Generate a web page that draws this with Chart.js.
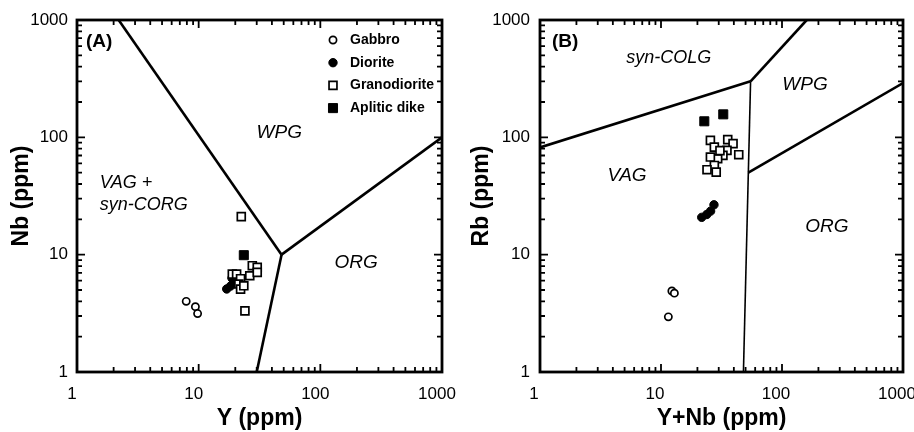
<!DOCTYPE html>
<html>
<head>
<meta charset="utf-8">
<script src="https://cdn.jsdelivr.net/npm/chart.js@4.4.1/dist/chart.umd.min.js"></script>
<style>
  body { margin: 0; background: #fff; }
  #wrap { position: relative; width: 914px; height: 432px; overflow: hidden; }
  #wrap canvas { position: absolute; left: 0; top: 0; }
</style>
</head>
<body>
<div id="wrap">
  <canvas id="chartA" width="914" height="432"></canvas>
  <canvas id="chartB" width="914" height="432"></canvas>
</div>
<script>
  // axis ticks (both panels, both axes)
  var decades = [1, 10, 100, 1000];
  var tickLabels = ['1', '10', '100', '1000'];

  // panel A: Nb vs Y
  var gabbroA_Y = [7.9, 9.4, 9.8];
  var gabbroA_Nb = [4.0, 3.6, 3.15];
  var dioriteA_Y = [17.0, 18.3, 19.5, 18.8];
  var dioriteA_Nb = [5.1, 5.4, 5.7, 6.3];
  var granoA_Y = [22.4, 24.0, 18.9, 20.5, 22.1, 21.4, 22.1, 23.5, 26.3, 27.6, 30.3, 30.3];
  var granoA_Nb = [21.1, 3.32, 6.84, 6.84, 6.24, 5.62, 5.09, 5.43, 6.61, 8.05, 7.79, 7.06];
  var apliticA_Y = [23.5];
  var apliticA_Nb = [9.9];

  // panel A field boundaries
  var bndA1_x = [2.2, 48], bndA1_y = [1000, 10];
  var bndA2_x = [48, 1000], bndA2_y = [10, 100];
  var bndA3_x = [48, 30], bndA3_y = [10, 1];

  // panel B: Rb vs Y+Nb
  var gabbroB_YNb = [12.3, 12.9, 11.5];
  var gabbroB_Rb = [4.9, 4.7, 2.95];
  var dioriteB_YNb = [21.7, 23.9, 25.7, 27.4];
  var dioriteB_Rb = [20.8, 22.0, 23.5, 26.6];
  var granoB_YNb = [25.6, 27.6, 35.6, 39.4, 43.9, 35.1, 32.5, 29.4, 25.6, 27.6, 24.0, 28.6, 30.7];
  var granoB_Rb = [94.3, 82.6, 95.5, 88.3, 71.1, 77.4, 70.2, 65.7, 67.9, 57.6, 53.0, 50.5, 77];
  var apliticB_YNb = [22.8, 32.7];
  var apliticB_Rb = [137, 157];

  // panel B field boundaries
  var bndB1_x = [1, 55], bndB1_y = [82, 300];
  var bndB2_x = [55, 160], bndB2_y = [300, 1000];
  var bndB3_x = [55, 48], bndB3_y = [300, 1];
  var bndB4_x = [52.7, 1000], bndB4_y = [50, 290];

  var FONT = "'Liberation Sans', Arial, Helvetica, sans-serif";

  function pts(xs, ys) {
    return xs.map(function (x, i) { return { x: x, y: ys[i] }; });
  }

  function rockSets(g, d, gr, ap) {
    return [
      { label: 'Gabbro', data: g, pointStyle: 'circle', pointRadius: 3.6, pointBackgroundColor: '#fff',
        pointBorderColor: '#000', pointBorderWidth: 1.7, order: 1 },
      { label: 'Diorite', data: d, pointStyle: 'circle', pointRadius: 4.2, pointBackgroundColor: '#000',
        pointBorderColor: '#000', pointBorderWidth: 1, order: 2 },
      { label: 'Granodiorite', data: gr, pointStyle: 'rect', pointRadius: 5.6, pointBackgroundColor: '#fff',
        pointBorderColor: '#000', pointBorderWidth: 1.7, order: 0 },
      { label: 'Aplitic dike', data: ap, pointStyle: 'rect', pointRadius: 6.4, pointBackgroundColor: '#000',
        pointBorderColor: '#000', pointBorderWidth: 1, order: 0 }
    ];
  }

  function boundary(data, w) {
    return { label: '', data: data, showLine: true, borderColor: '#000', borderWidth: w || 2.6,
      pointRadius: 0, tension: 0, order: 5, isBoundary: true };
  }

  // frame + inward log ticks on all four sides
  var frameTicks = {
    id: 'frameTicks',
    afterDraw: function (chart) {
      var ctx = chart.ctx, a = chart.chartArea;
      var xs = chart.scales.x, ys = chart.scales.y;
      ctx.save();
      ctx.strokeStyle = '#000';
      ctx.lineWidth = 1.8;
      for (var d = 1; d <= 1000; d *= 10) {
        for (var k = 1; k <= 9; k++) {
          var v = d * k;
          if (v > 1000) break;
          var len = k === 1 ? 8 : 5;
          var px = xs.getPixelForValue(v), py = ys.getPixelForValue(v);
          ctx.beginPath();
          ctx.moveTo(px, a.bottom); ctx.lineTo(px, a.bottom - len);
          ctx.moveTo(px, a.top); ctx.lineTo(px, a.top + len);
          ctx.moveTo(a.left, py); ctx.lineTo(a.left + len, py);
          ctx.moveTo(a.right, py); ctx.lineTo(a.right - len, py);
          ctx.stroke();
        }
      }
      ctx.lineWidth = 2.8;
      ctx.strokeRect(a.left, a.top, a.right - a.left, a.bottom - a.top);
      ctx.restore();
    }
  };

  // field names and panel letters, placed in data space
  var regionLabels = {
    id: 'regionLabels',
    afterDatasetsDraw: function (chart, args, opts) {
      var ctx = chart.ctx, xs = chart.scales.x, ys = chart.scales.y;
      ctx.save();
      ctx.fillStyle = '#000';
      ctx.textBaseline = 'middle';
      (opts.items || []).forEach(function (it) {
        ctx.font = it.font;
        ctx.textAlign = it.align || 'center';
        ctx.fillText(it.text, xs.getPixelForValue(it.x), ys.getPixelForValue(it.y));
      });
      ctx.restore();
    }
  };

  // legend drawn inside the plot, top right
  var innerLegend = {
    id: 'innerLegend',
    afterDraw: function (chart, args, opts) {
      if (!opts.show) return;
      var ctx = chart.ctx, a = chart.chartArea;
      var sx = a.right - 109, tx = a.right - 92, y0 = a.top + 20, dy = 22.7;
      ctx.save();
      ctx.font = 'bold 14px ' + FONT;
      ctx.textBaseline = 'middle';
      ctx.textAlign = 'left';
      var row = 0;
      chart.data.datasets.forEach(function (ds) {
        if (ds.isBoundary) return;
        var y = y0 + row * dy;
        ctx.fillStyle = ds.pointBackgroundColor;
        ctx.strokeStyle = '#000';
        ctx.lineWidth = ds.pointBorderWidth;
        ctx.beginPath();
        if (ds.pointStyle === 'circle') {
          ctx.arc(sx, y, ds.pointRadius, 0, Math.PI * 2);
        } else {
          var h = ds.pointRadius * Math.SQRT1_2;
          ctx.rect(sx - h, y - h, 2 * h, 2 * h);
        }
        ctx.fill();
        ctx.stroke();
        ctx.fillStyle = '#000';
        ctx.fillText(ds.label, tx, y);
        row++;
      });
      ctx.restore();
    }
  };

  function logAxis(titleText, isX, sizeOrOffset, tickPad, titlePad) {
    var ax = {
      type: 'logarithmic',
      min: 1,
      max: 1000,
      afterBuildTicks: function (s) {
        s.ticks = decades.map(function (v) { return { value: v }; });
      },
      ticks: {
        autoSkip: false,
        maxRotation: 0,
        color: '#000',
        padding: tickPad,
        font: { family: FONT, size: 17 },
        callback: function (v, i) { return tickLabels[i]; }
      },
      grid: { display: false, drawTicks: false },
      border: { display: false },
      title: {
        display: true,
        text: titleText,
        color: '#000',
        font: { family: FONT, size: 23, weight: 'bold' },
        padding: titlePad
      }
    };
    if (isX) {
      ax.position = 'bottom';
      ax.ticks.labelOffset = sizeOrOffset;
      ax.afterFit = function (s) {
        s.height = 60;
        s.paddingLeft = 0;
        s.paddingRight = 0;
      };
    } else {
      ax.position = 'left';
      ax.afterFit = function (s) {
        s.width = sizeOrOffset;
        s.paddingTop = 0;
        s.paddingBottom = 0;
      };
    }
    return ax;
  }

  function makeChart(id, datasets, xTitle, yTitle, yWidth, pad, xOffset, yTickPad, yTitlePad, labels, legend) {
    return new Chart(document.getElementById(id), {
      type: 'scatter',
      data: { datasets: datasets },
      options: {
        responsive: false,
        animation: false,
        devicePixelRatio: 1,
        layout: { padding: pad },
        scales: {
          x: logAxis(xTitle, true, xOffset, 12, { top: 0, bottom: 0 }),
          y: logAxis(yTitle, false, yWidth, yTickPad, { top: yTitlePad, bottom: 0 })
        },
        plugins: {
          legend: { display: false },
          tooltip: { enabled: false },
          regionLabels: { items: labels },
          innerLegend: { show: legend }
        }
      },
      plugins: [regionLabels, innerLegend, frameTicks]
    });
  }

  var ital19 = 'italic 19px ' + FONT;
  var ital18 = 'italic 18px ' + FONT;
  var bold19 = 'bold 19px ' + FONT;

  makeChart('chartA',
    rockSets(pts(gabbroA_Y, gabbroA_Nb), pts(dioriteA_Y, dioriteA_Nb), pts(granoA_Y, granoA_Nb), pts(apliticA_Y, apliticA_Nb))
      .concat([boundary(pts(bndA1_x, bndA1_y)), boundary(pts(bndA2_x, bndA2_y)), boundary(pts(bndA3_x, bndA3_y))]),
    'Y (ppm)', 'Nb (ppm)', 77, { top: 20, right: 472, left: 0, bottom: 0 }, -5, 9, 8,
    [
      { text: '(A)', x: 1.185, y: 650, font: bold19, align: 'left' },
      { text: 'WPG', x: 46, y: 109, font: ital19 },
      { text: 'VAG +', x: 1.54, y: 40.8, font: ital18, align: 'left' },
      { text: 'syn-CORG', x: 1.54, y: 26.5, font: ital18, align: 'left' },
      { text: 'ORG', x: 197, y: 8.5, font: ital19 }
    ], true);

  makeChart('chartB',
    rockSets(pts(gabbroB_YNb, gabbroB_Rb), pts(dioriteB_YNb, dioriteB_Rb), pts(granoB_YNb, granoB_Rb), pts(apliticB_YNb, apliticB_Rb))
      .concat([boundary(pts(bndB1_x, bndB1_y)), boundary(pts(bndB2_x, bndB2_y)),
               boundary(pts(bndB3_x, bndB3_y), 1.6), boundary(pts(bndB4_x, bndB4_y))]),
    'Y+Nb (ppm)', 'Rb (ppm)', 83, { top: 20, right: 11, left: 457, bottom: 0 }, -6, 10, 11,
    [
      { text: '(B)', x: 1.256, y: 650, font: bold19, align: 'left' },
      { text: 'syn-COLG', x: 11.6, y: 475, font: ital18 },
      { text: 'WPG', x: 155, y: 280, font: ital19 },
      { text: 'VAG', x: 5.24, y: 46.9, font: ital19 },
      { text: 'ORG', x: 235, y: 17.2, font: ital19 }
    ], false);
</script>
</body>
</html>
